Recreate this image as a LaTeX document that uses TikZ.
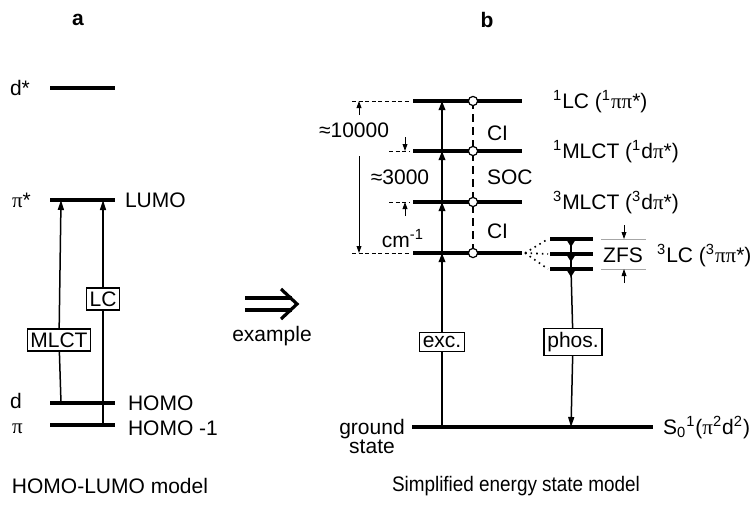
\documentclass[tikz,border=0pt]{standalone}
\usepackage{fontspec}
\setmainfont{Liberation Sans}
\newfontfamily\grk{Liberation Serif}
\usetikzlibrary{positioning, arrows.meta, calc}

\newcommand{\pii}{{\grk π}}

\begin{document}
\begin{tikzpicture}[x=0.5pt, y=-0.5pt, font=\fontsize{10.5}{12}\selectfont,
    level/.style={line width=2pt},
    sublevel/.style={line width=1.8pt},
    trans/.style={line width=0.75pt, -{Triangle[length=5pt, width=3pt]}},
    excite/.style={line width=1pt, -{Triangle[length=4.5pt, width=3.2pt]}},
    tag/.style={draw, line width=0.65pt, fill=white, inner xsep=1.6pt, inner ysep=1.8pt},
    guide/.style={line width=0.5pt, dash pattern=on 2pt off 1.3pt},
    dim/.style={line width=0.5pt, -{Triangle[length=3.5pt, width=2.4pt]}},
    knot/.style={circle, draw, fill=white, line width=0.6pt, inner sep=0pt, minimum size=4.6pt},
    zfsline/.style={gray!70, line width=0.5pt}]
  \useasboundingbox (0,0) rectangle (753,509);

  % ---------- panel a: orbitals ----------
  \node[font=\bfseries\fontsize{10.5}{12}\selectfont] (pa) at (78,20) {a};
  \coordinate (dsL) at (50,88);    \coordinate (dsR) at (115,88);
  \coordinate (lumoL) at (50,200); \coordinate (lumoR) at (115,200);
  \coordinate (homoL) at (50,403); \coordinate (homoR) at (115,403);
  \coordinate (homiL) at (50,425); \coordinate (homiR) at (115,425);
  \foreach \l/\r in {dsL/dsR, lumoL/lumoR, homoL/homoR, homiL/homiR}
    {\draw[level] (\l) -- (\r);}
  % orbital names left, roles right
  \node[anchor=west] (tds) at (3,88) {d*};
  \node[anchor=west] (tps) at (5,200) {\pii*};
  \node[anchor=west] (td) at (3,401) {d};
  \node[anchor=west] (tp) at (5,429) {\pii};
  \node[anchor=west] (tlumo) at (118,200) {LUMO};
  \node[anchor=west] (thomo) at (121,403) {HOMO};
  \node[anchor=west] (thomi) at (121,428) {HOMO -1};
  % transitions
  \coordinate (mlctB) at (61,403); \coordinate (mlctT) at (61,200);
  \coordinate (lcB) at (103,425);  \coordinate (lcT) at (103,200);
  \node[tag] (mlct) at (59,340) {MLCT};
  \node[tag] (lc) at (103,299) {LC};
  \draw[line width=0.75pt] (mlctB) -- (mlct);
  \draw[trans] (mlct) -- (mlctT);
  \draw[line width=0.75pt] (lcB) -- (lc);
  \draw[trans] (lc) -- (lcT);
  \node (capa) at (110,486) {HOMO-LUMO model};

  % ---------- link ----------
  \draw[line width=1.6pt] (245,298) -- (292,298);
  \draw[line width=1.6pt] (245,310) -- (292,310);
  \draw[line width=1.6pt, miter limit=4] (281,289) -- (297,304) -- (281,319);
  \node (ex) at (272,336) {example};

  % ---------- panel b: states ----------
  \node[font=\bfseries\fontsize{10.5}{12}\selectfont] (pb) at (487,20) {b};
  \foreach \n/\y in {sLC/101, sMLCT/151, tMLCT/202, tLC/253} {
    \coordinate (\n L) at (413,\y);
    \coordinate (\n R) at (522,\y);
    \coordinate (\n X) at (442,\y);
    \draw[level] (\n L) -- (\n R);
  }
  \coordinate (gsL) at (412,427); \coordinate (gsR) at (653,427);
  \coordinate (gsX) at (442,427); \coordinate (gsP) at (571,427);
  \draw[level] (gsL) -- (gsR);

  % excitation chain
  \node[tag] (exc) at (442,342) {exc.};
  \draw[excite, -] (gsX) -- (exc);
  \draw[excite] (exc) -- (tLCX);
  \draw[excite] (tLCX) -- (tMLCTX);
  \draw[excite] (tMLCTX) -- (sMLCTX);
  \draw[excite] (sMLCTX) -- (sLCX);

  % coupling between states
  \draw[line width=0.75pt, dash pattern=on 4pt off 2.5pt] (473,101) -- (473,253);
  \foreach \n/\y in {k1/101, k2/151, k3/202, k4/253}
    {\node[knot] (\n) at (473,\y) {};}
  \node[anchor=west] (ci1) at (480,133) {CI};
  \node[anchor=west] (soc) at (480,177) {SOC};
  \node[anchor=west] (ci2) at (480,231) {CI};

  % energy gaps
  \coordinate (g1) at (352,101); \coordinate (g2) at (389,151);
  \coordinate (g3) at (389,202); \coordinate (g4) at (352,253);
  \draw[guide] (g1) -- ($(sLCL)+(-4,0)$);
  \draw[guide] (g2) -- ($(sMLCTL)+(-4,0)$);
  \draw[guide] (g3) -- ($(tMLCTL)+(-4,0)$);
  \draw[guide] (g4) -- ($(tLCL)+(-4,0)$);
  \draw[dim] (359,115) -- (359,101);
  \node (e1) at (354,130) {≈10000};
  \draw[dim] (359,156) -- (359,253);
  \draw[dim] (405,137) -- (405,151);
  \node (e2) at (400,177) {≈3000};
  \draw[dim] (405,216) -- (405,202);
  \node (unit) at (403,239) {cm\textsuperscript{-1}};

  % triplet sublevels
  \foreach \n/\y in {z1/239, z2/254, z3/269} {
    \coordinate (\n L) at (550,\y);
    \coordinate (\n R) at (593,\y);
    \draw[dotted, line width=0.8pt] ($(tLCR)+(3,0)$) -- ($(\n L)+(-2,0)$);
    \draw[sublevel] (\n L) -- (\n R);
    \fill (566,\y) -- (576,\y) -- (571,\y+8) -- cycle;
  }
  \draw[line width=0.75pt] (571,239) -- (571,269);
  \node[tag] (phos) at (573,342) {phos.};
  \draw[line width=0.75pt] (571,269) -- (phos);
  \draw[trans] (phos) -- (gsP);
  \draw[zfsline] (601,239) -- (646,239);
  \draw[zfsline] (601,269) -- (646,269);
  \node (zfs) at (623,255) {ZFS};
  \draw[dim, line width=0.4pt] (624,225) -- (624,239);
  \draw[dim, line width=0.4pt] (624,283) -- (624,269);

  % state names
  \node[anchor=base west] (n1) at (546,108) {\textsuperscript{1}LC (\textsuperscript{1}\pii\pii*)};
  \node[anchor=base west] (n2) at (546,158) {\textsuperscript{1}MLCT (\textsuperscript{1}d\pii*)};
  \node[anchor=base west] (n3) at (546,209) {\textsuperscript{3}MLCT (\textsuperscript{3}d\pii*)};
  \node[anchor=base west] (n4) at (650,262) {\textsuperscript{3}LC (\textsuperscript{3}\pii\pii*)};
  \node[anchor=base west] (n5) at (656,434) {S\textsubscript{0}\textsuperscript{1}(\pii\textsuperscript{2}d\textsuperscript{2})};
  \node[align=center, font=\fontsize{10.5}{9.5}\selectfont] (gs) at (372,436) {ground\\state};
  \node (capb) at (516,486) {\scalebox{0.9}[1]{Simplified energy state model}};
\end{tikzpicture}
\end{document}
